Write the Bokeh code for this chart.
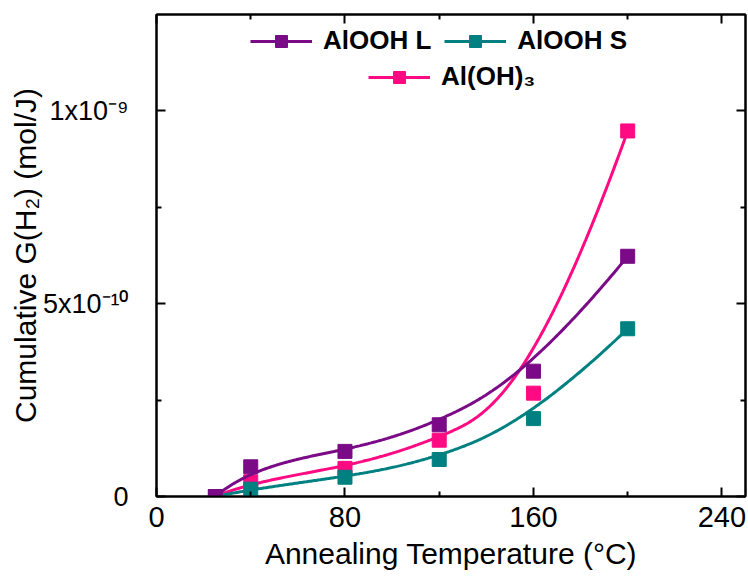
import numpy as np
from bokeh.plotting import figure
from bokeh.models import (FixedTicker, LinearAxis, Legend, LegendItem,
                          CustomJSTickFormatter, Range1d)
from bokeh.embed import file_html
from bokeh.resources import INLINE

# ---- data ----
temperature = [25, 40, 80, 120, 160, 200]
aiooh_l = [0.0, 0.077e-9, 0.117e-9, 0.186e-9, 0.325e-9, 0.623e-9]
aiooh_s = [0.0, 0.019e-9, 0.050e-9, 0.096e-9, 0.202e-9, 0.435e-9]
aloh3 = [0.0, 0.038e-9, 0.073e-9, 0.146e-9, 0.268e-9, 0.948e-9]

series_names = ["AlOOH L", "AlOOH S", "Al(OH)₃"]
series_colors = ["#7A0A85", "#008080", "#FF0A82"]

x_major = [0, 80, 160, 240]
x_minor = [40, 120, 200]
y_major = [0, 5e-10, 1e-9]
y_major_labels = ["0", "5x10⁻¹⁰", "1x10⁻⁹"]
y_minor = [2.5e-10, 7.5e-10]

FONT = "Liberation Sans"


def bspline(xs, ys, k=3, n=300):
    """Clamped cubic B-spline using the data points as control points."""
    P = np.column_stack([xs, ys]).astype(float)
    m = len(P)
    inner = np.linspace(0, 1, m - k + 1)[1:-1]
    t = np.concatenate([np.zeros(k + 1), inner, np.ones(k + 1)])
    u = np.linspace(0, 1, n)

    def N(i, p):
        if p == 0:
            res = ((t[i] <= u) & (u < t[i + 1])).astype(float)
            if t[i + 1] == 1.0 and t[i] < 1.0:
                res[u == 1.0] = 1.0
            return res
        a = np.zeros_like(u)
        b = np.zeros_like(u)
        d1 = t[i + p] - t[i]
        if d1 > 0:
            a = (u - t[i]) / d1 * N(i, p - 1)
        d2 = t[i + p + 1] - t[i + 1]
        if d2 > 0:
            b = (t[i + p + 1] - u) / d2 * N(i + 1, p - 1)
        return a + b

    B = np.array([N(i, k) for i in range(m)])
    C = B.T @ P
    return C[:, 0], C[:, 1]


p = figure(width=748, height=577, output_backend="svg", toolbar_location=None,
           x_range=Range1d(0, 250), y_range=Range1d(0, 1.25e-9),
           min_border_left=156, min_border_right=3, min_border_top=14,
           min_border_bottom=81)
p.xgrid.visible = False
p.ygrid.visible = False
p.outline_line_color = "black"
p.outline_line_width = 2
p.background_fill_color = "white"
p.border_fill_color = "white"

bottom = p.below[0]
left = p.left[0]

renderers = {}
order = [2, 1, 0]  # pink, teal, purple (purple on top)
all_y = [aiooh_l, aiooh_s, aloh3]
for idx in order:
    ys = all_y[idx]
    cx, cy = bspline(temperature, ys)
    lr = p.line(cx, cy, line_color=series_colors[idx], line_width=3)
    sr = p.scatter(temperature, ys, marker="square", size=14,
                   fill_color=series_colors[idx], line_color=series_colors[idx])
    renderers[idx] = [lr, sr]

# axes
bottom.ticker = FixedTicker(ticks=x_major, minor_ticks=x_minor)
left.ticker = FixedTicker(ticks=y_major, minor_ticks=y_minor)
left.formatter = CustomJSTickFormatter(
    args=dict(vals=y_major, labs=y_major_labels),
    code="""
for (let i = 0; i < vals.length; i++) {
  if (Math.abs(tick - vals[i]) < 1e-13) return labs[i];
}
return '';
""")
bottom.axis_label = "Annealing Temperature (°C)"
left.axis_label = "Cumulative G(H₂) (mol/J)"

top = LinearAxis(ticker=FixedTicker(ticks=x_major, minor_ticks=x_minor),
                 formatter=CustomJSTickFormatter(code="return '';"))
right = LinearAxis(ticker=FixedTicker(ticks=y_major, minor_ticks=y_minor),
                   formatter=CustomJSTickFormatter(code="return '';"))
p.add_layout(top, "above")
p.add_layout(right, "right")

for ax in [bottom, left, top, right]:
    ax.axis_line_width = 2
    ax.axis_line_color = "black"
    ax.major_tick_line_width = 2
    ax.minor_tick_line_width = 2
    ax.major_tick_in = 9
    ax.major_tick_out = 0
    ax.minor_tick_in = 5
    ax.minor_tick_out = 0
    ax.major_label_text_font = FONT
    ax.major_label_text_font_size = "29px"
    ax.major_label_text_font_style = "normal"
    ax.major_label_text_color = "black"
    ax.axis_label_text_font = FONT
    ax.axis_label_text_font_size = "30px"
    ax.axis_label_text_font_style = "normal"
    ax.axis_label_text_color = "black"

for ax in [top, right]:
    ax.major_label_text_font_size = "0px"
    ax.major_label_standoff = 0

left.major_label_text_font_size = "27px"
bottom.major_label_standoff = 10
bottom.axis_label_standoff = 7
left.major_label_standoff = 28
left.axis_label_standoff = -2

legend_kw = dict(orientation="horizontal", glyph_width=62, glyph_height=30,
                 label_standoff=11, spacing=13, padding=0, margin=0,
                 border_line_color=None, background_fill_alpha=0,
                 label_text_font=FONT, label_text_font_style="bold",
                 label_text_font_size="26px", label_text_color="black")

leg1 = Legend(items=[LegendItem(label=series_names[0], renderers=renderers[0]),
                     LegendItem(label=series_names[1], renderers=renderers[1])],
              location=(94, 440), **legend_kw)
leg2 = Legend(items=[LegendItem(label=series_names[2], renderers=renderers[2])],
              location=(212, 404), **legend_kw)
p.add_layout(leg1, "center")
p.add_layout(leg2, "center")

open("out.html", "w").write(file_html(p, INLINE))
